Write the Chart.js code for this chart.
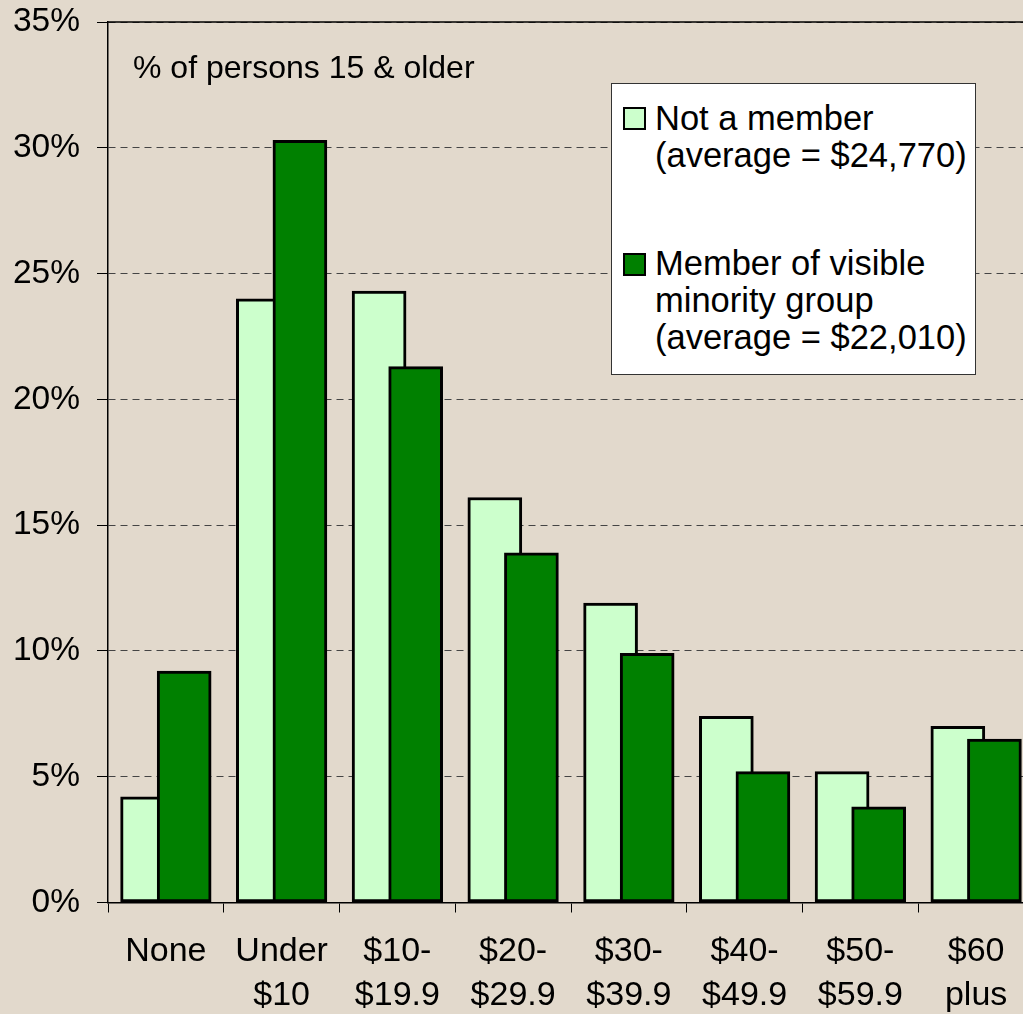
<!DOCTYPE html>
<html>
<head>
<meta charset="utf-8">
<script src="https://cdn.jsdelivr.net/npm/chart.js@4/dist/chart.umd.min.js"></script>
<style>
  html, body { margin: 0; padding: 0; overflow: hidden; background: #e2d9cc; }
  #wrap { position: relative; width: 1040px; height: 1014px; }
  #c { position: absolute; left: 0; top: 0; }
  .note { position: absolute; left: 133px; top: 49px; font: 32px "Liberation Sans", Arial, sans-serif; color: #000; white-space: nowrap; line-height: 37px; }
  #legend { position: absolute; left: 611px; top: 83px; width: 365px; height: 292px; background: #fff; border: 1px solid #333; box-sizing: border-box; }
  .li { position: absolute; left: 43px; font: 34.5px "Liberation Sans", Arial, sans-serif; color: #000; line-height: 37px; white-space: nowrap; }
  .sw { position: absolute; left: 11px; width: 23px; height: 23px; border: 2px solid #000; box-sizing: border-box; }
</style>
</head>
<body>
<div id="wrap">
  <canvas id="c" width="1040" height="1014"></canvas>
  <div class="note" id="note"></div>
  <div id="legend"></div>
</div>
<script>
// ---- data ----
const categories = [
  ['None'], ['Under', '$10'], ['$10-', '$19.9'], ['$20-', '$29.9'],
  ['$30-', '$39.9'], ['$40-', '$49.9'], ['$50-', '$59.9'], ['$60', 'plus']
];
const notMember = [4.2, 24.0, 24.3, 16.1, 11.9, 7.4, 5.2, 7.0];
const visibleMinority = [9.2, 30.3, 21.3, 13.9, 9.9, 5.2, 3.8, 6.5];
const seriesNames = [
  ['Not a member', '(average = $24,770)'],
  ['Member of visible', 'minority group', '(average = $22,010)']
];
const yTicks = [0, 5, 10, 15, 20, 25, 30, 35];
const noteText = '% of persons 15 & older';

// ---- style ----
const LIGHT = '#ccffcc';
const DARK = '#008000';
const SHIFT = 0.158; // overlap offset within a category (fraction of category)

document.getElementById('note').textContent = noteText;
const leg = document.getElementById('legend');
const legendSpec = [
  { color: LIGHT, lines: seriesNames[0], swTop: 23, txtTop: 16 },
  { color: DARK, lines: seriesNames[1], swTop: 169, txtTop: 161 }
];
legendSpec.forEach(s => {
  const sw = document.createElement('div');
  sw.className = 'sw'; sw.style.top = s.swTop + 'px'; sw.style.background = s.color;
  leg.appendChild(sw);
  const t = document.createElement('div');
  t.className = 'li'; t.style.top = s.txtTop + 'px';
  t.innerHTML = s.lines.join('<br>');
  leg.appendChild(t);
});

const toXY = (arr, d) => arr.map((v, i) => ({ x: i + 0.5 + d, y: v }));

const topBorder = {
  id: 'topBorder',
  afterDatasetsDraw(chart) {
    const { ctx, chartArea } = chart;
    ctx.save();
    ctx.strokeStyle = '#000';
    ctx.lineWidth = 1.5;
    ctx.beginPath();
    ctx.moveTo(chartArea.left, chartArea.top);
    ctx.lineTo(chartArea.right, chartArea.top);
    ctx.stroke();
    ctx.restore();
  }
};

new Chart(document.getElementById('c'), {
  type: 'bar',
  data: {
    labels: categories,
    datasets: [
      { label: seriesNames[0].join(' '), data: toXY(notMember, -SHIFT), xAxisID: 'xl',
        backgroundColor: LIGHT, borderColor: '#000', borderWidth: 3, borderSkipped: false,
        barThickness: 54, grouped: false, order: 2 },
      { label: seriesNames[1].join(' '), data: toXY(visibleMinority, SHIFT), xAxisID: 'xl',
        backgroundColor: DARK, borderColor: '#000', borderWidth: 3, borderSkipped: false,
        barThickness: 54, grouped: false, order: 1 }
    ]
  },
  plugins: [topBorder],
  options: {
    responsive: false,
    animation: false,
    devicePixelRatio: 1,
    layout: { padding: { top: 22, right: 6, left: 0, bottom: 0 } },
    plugins: { legend: { display: false }, tooltip: { enabled: false } },
    scales: {
      xl: { type: 'linear', min: 0, max: categories.length, display: false, offset: false, grid: { offset: false } },
      x: {
        type: 'category', position: 'bottom', offset: true,
        grid: { display: true, offset: true, drawOnChartArea: false, drawTicks: true, tickLength: 10, color: '#000', tickColor: '#000' },
        border: { display: true, color: '#000', width: 1.5 },
        ticks: { color: '#000', padding: 17, maxRotation: 0, autoSkip: false,
          font: { family: '"Liberation Sans", Arial, sans-serif', size: 34, lineHeight: 1.3 } },
        afterFit: s => { s.height = 111.5; s.paddingLeft = 0; s.paddingRight = 0; }
      },
      y: {
        min: 0, max: 35,
        afterBuildTicks: s => { s.ticks = yTicks.map(v => ({ value: v })); },
        grid: { color: '#444', lineWidth: 1, tickLength: 11, tickColor: '#000', drawTicks: true },
        border: { display: true, color: '#000', width: 1.5, dash: [7, 5] },
        ticks: { color: '#000', padding: 17, callback: v => v + '%',
          font: { family: '"Liberation Sans", Arial, sans-serif', size: 33.5 } },
        afterFit: s => { s.width = 108; s.paddingTop = 0; s.paddingBottom = 0; }
      }
    }
  }
});
</script>
</body>
</html>
